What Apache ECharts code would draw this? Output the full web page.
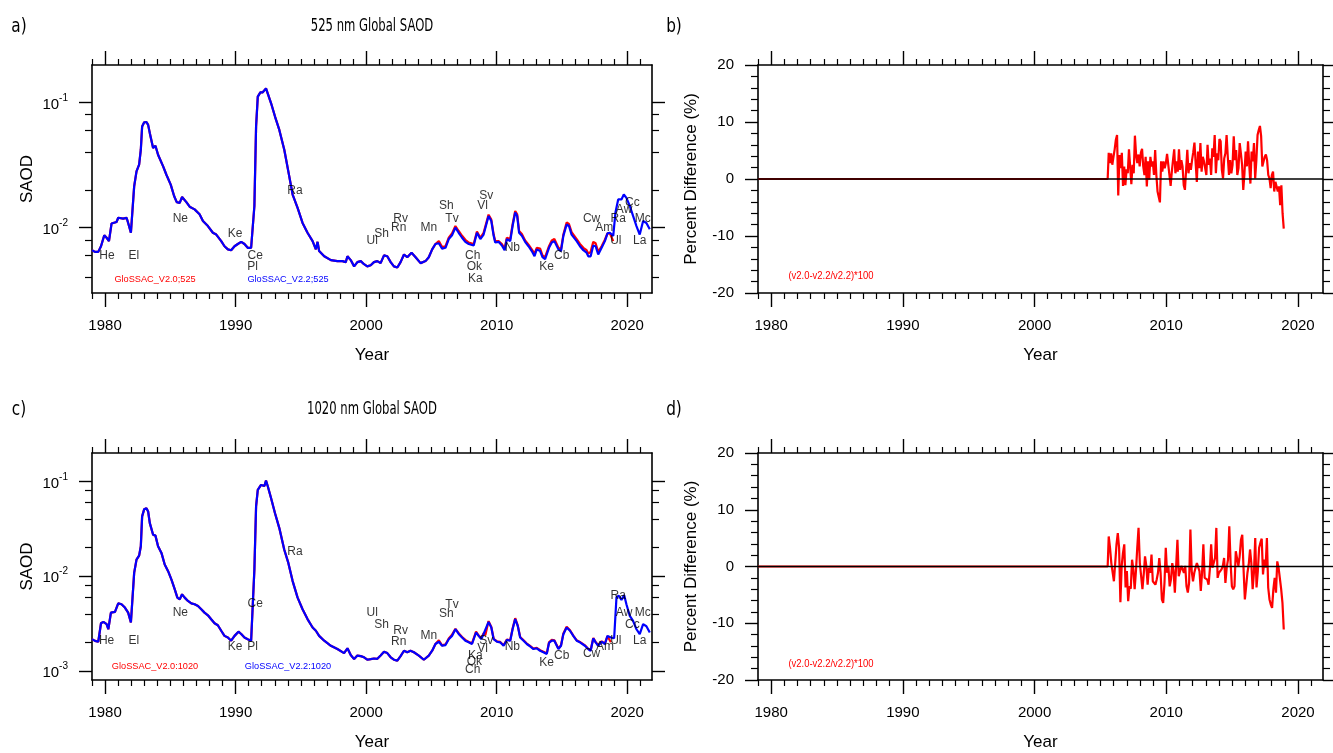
<!DOCTYPE html>
<html><head><meta charset="utf-8">
<script src="https://cdn.jsdelivr.net/npm/echarts@6/dist/echarts.min.js"></script>
<style>html,body{margin:0;padding:0;background:#fff}#c{width:1333px;height:753px}</style>
</head><body><div id="c"></div><script>
// ---------- DATA ----------
const xMajorTicks = [1980, 1990, 2000, 2010, 2020];
const xMinorTicks = [1979,1981,1982,1983,1984,1985,1986,1987,1988,1989,1991,1992,1993,1994,1995,1996,1997,1998,1999,2001,2002,2003,2004,2005,2006,2007,2008,2009,2011,2012,2013,2014,2015,2016,2017,2018,2019,2021];
const yLogMajorA = [0.01, 0.1];
const yLogMinorA = [0.004, 0.006, 0.008, 0.02, 0.04, 0.06, 0.08];
const yLogMajorC = [0.001, 0.01, 0.1];
const yLogMinorC = [0.002, 0.004, 0.006, 0.008, 0.02, 0.04, 0.06, 0.08];
const pdMajorTicks = [-20, -10, 0, 10, 20];
const pdMinorTicks = [-18,-16,-14,-12,-8,-6,-4,-2,2,4,6,8,12,14,16,18];

// 525 nm, GloSSAC v2.2 (blue)
const yr525 = [1979.0,1979.23,1979.48,1979.69,1979.94,1980.12,1980.30,1980.50,1980.88,1981.01,1981.39,1981.65,1981.77,1981.98,1982.08,1982.23,1982.41,1982.61,1982.74,1982.84,1983.00,1983.17,1983.30,1983.43,1983.68,1983.86,1984.06,1984.45,1984.70,1985.03,1985.29,1985.49,1985.72,1985.90,1986.05,1986.23,1986.48,1986.86,1987.24,1987.50,1987.88,1988.26,1988.52,1988.90,1989.15,1989.41,1989.66,1989.92,1990.17,1990.43,1990.68,1990.93,1991.19,1991.32,1991.44,1991.57,1991.70,1991.90,1992.08,1992.21,1992.33,1992.46,1992.72,1993.02,1993.35,1993.73,1994.04,1994.37,1994.75,1995.13,1995.51,1995.90,1996.15,1996.28,1996.40,1996.79,1997.30,1997.80,1998.19,1998.44,1998.57,1998.82,1999.08,1999.33,1999.59,1999.84,2000.09,2000.35,2000.60,2000.86,2001.11,2001.37,2001.62,2001.88,2002.13,2002.39,2002.64,2002.90,2003.15,2003.48,2003.79,2004.17,2004.55,2004.80,2005.06,2005.31,
  2005.57,2005.82,2006.08,2006.33,2006.58,2006.84,2007.09,2007.35,2007.60,2007.86,2008.24,2008.49,2008.75,2009.00,2009.13,2009.38,2009.59,2009.77,2009.89,2010.15,2010.40,2010.61,2010.78,2011.04,2011.22,2011.42,2011.57,2011.72,2011.93,2012.18,2012.44,2012.69,2012.90,2013.07,2013.33,2013.51,2013.71,2013.84,2014.01,2014.22,2014.42,2014.73,2014.93,2015.11,2015.36,2015.54,2015.74,2016.13,2016.38,2016.64,2016.89,2017.02,2017.20,2017.40,2017.58,2017.78,2018.04,2018.29,2018.49,2018.67,2018.93,
  2019.10,2019.31,2019.56,2019.74,2019.94,2020.20,2020.45,2020.71,2020.96,2021.22,2021.47,2021.73];
const v22_525 = [0.0066,0.0064,0.0064,0.0071,0.0087,0.0083,0.0078,0.0108,0.0111,0.0120,0.0118,0.0120,0.0109,0.0091,0.0091,0.0214,0.0282,0.0319,0.042,0.0644,0.0697,0.070,0.0664,0.057,0.0433,0.0452,0.0383,0.0309,0.0265,0.0221,0.0179,0.0160,0.0158,0.0176,0.0173,0.0160,0.0147,0.0140,0.0128,0.0113,0.0103,0.0091,0.0088,0.0078,0.0071,0.0067,0.0066,0.0071,0.0074,0.0077,0.0074,0.0069,0.0069,0.0071,0.0149,0.0644,0.1116,0.1208,0.121,0.1247,0.130,0.1186,0.0988,0.0774,0.0605,0.042,0.0282,0.0184,0.0144,0.0109,0.0091,0.0078,0.0067,0.0077,0.0065,0.0059,0.0055,0.0054,0.0054,0.0053,0.0059,0.0055,0.0049,0.0053,0.0054,0.0051,0.0049,0.0050,0.0053,0.0054,0.0052,0.0060,0.0059,0.0053,0.0049,0.0048,0.0053,0.0061,0.0058,0.0063,0.0058,0.0052,0.0054,0.0058,0.0067,0.0074,
  0.0075,0.0068,0.0069,0.0081,0.0087,0.0100,0.0091,0.0083,0.0077,0.0074,0.0072,0.0091,0.0081,0.0088,0.0091,0.0124,0.0113,0.0086,0.0076,0.0077,0.0072,0.0066,0.0081,0.0078,0.0103,0.0132,0.0124,0.0091,0.0086,0.0077,0.0071,0.0065,0.0059,0.0067,0.0065,0.0058,0.0056,0.0055,0.0069,0.0076,0.0078,0.0067,0.0065,0.0086,0.0106,0.0103,0.0088,0.0078,0.0071,0.0066,0.0063,0.0059,0.0059,0.0072,0.0071,0.0061,0.0069,0.0078,0.0090,0.0091,0.0086,
  0.0132,0.0168,0.0168,0.0184,0.0173,0.0149,0.0124,0.0103,0.0088,0.0113,0.0109,0.0097];
// 525 nm, GloSSAC v2.0 (red) where it departs from v2.2 (from 2005.57 to its end)
const v20_525_tail = [0.0078,0.0070,0.0071,0.0083,0.0090,0.0103,0.0094,0.0086,0.0080,0.0076,0.0074,0.0093,0.0083,0.0091,0.0094,0.0127,0.0116,0.0088,0.0078,0.0078,0.0074,0.0068,0.0083,0.0081,0.0106,0.0136,0.0128,0.0094,0.0089,0.0079,0.0073,0.0067,0.0062,0.0069,0.0068,0.0060,0.0058,0.0057,0.0071,0.0079,0.0081,0.0069,0.0067,0.0088,0.0110,0.0107,0.0092,0.0081,0.0074,0.0069,0.0066,0.0062,0.0064,0.0077,0.0075,0.0064,0.0071,0.0080,0.0090,0.0090,0.0078];

// 1020 nm, GloSSAC v2.2 (blue)
const yr1020 = [1979.0,1979.23,1979.48,1979.69,1979.87,1979.99,1980.12,1980.25,1980.45,1980.76,1981.01,1981.26,1981.52,1981.77,1981.98,1982.08,1982.23,1982.41,1982.61,1982.74,1982.84,1983.00,1983.17,1983.30,1983.43,1983.68,1983.86,1984.06,1984.32,1984.57,1984.83,1985.08,1985.34,1985.54,1985.72,1985.90,1986.10,1986.35,1986.61,1986.86,1987.12,1987.37,1987.62,1987.88,1988.13,1988.39,1988.64,1988.90,1989.15,1989.41,1989.66,1989.92,1990.22,1990.43,1990.68,1990.93,1991.19,1991.32,1991.44,1991.57,1991.70,1991.95,1992.21,1992.33,1992.46,1992.72,1993.02,1993.35,1993.73,1994.04,1994.37,1994.75,1995.13,1995.51,1995.90,1996.15,1996.28,1996.40,1996.79,1997.30,1997.80,1998.31,1998.57,1998.82,1999.08,1999.33,1999.59,1999.84,2000.09,2000.35,2000.60,2000.86,2001.11,2001.37,2001.62,2001.88,2002.13,2002.39,2002.64,2002.90,2003.15,2003.40,2003.66,2004.04,2004.42,2004.80,2005.06,2005.31,
  2005.57,2005.82,2006.08,2006.33,2006.58,2006.84,2007.09,2007.35,2007.60,2007.86,2008.11,2008.42,2008.62,2008.82,2009.00,2009.13,2009.38,2009.59,2009.77,2010.02,2010.27,2010.53,2010.78,2011.04,2011.22,2011.42,2011.62,2011.80,2012.06,2012.31,2012.56,2012.82,2013.07,2013.33,2013.58,2013.84,2014.01,2014.22,2014.42,2014.73,2014.93,2015.11,2015.36,2015.62,2015.87,2016.13,2016.38,2016.76,2017.02,2017.20,2017.40,2017.58,2017.78,2018.04,2018.29,2018.49,2018.75,
  2019.00,2019.18,2019.36,2019.56,2019.77,2019.94,2020.20,2020.45,2020.71,2020.96,2021.22,2021.47,2021.73];
const v22_1020 = [0.00216,0.00207,0.00203,0.00318,0.00329,0.00342,0.00311,0.00275,0.00412,0.00419,0.00516,0.00505,0.00466,0.00412,0.00324,0.00324,0.01083,0.01496,0.0165,0.0207,0.0428,0.0510,0.0523,0.0482,0.0363,0.0274,0.0268,0.0207,0.0176,0.01327,0.0113,0.00923,0.00724,0.00593,0.00569,0.00643,0.00593,0.00547,0.00516,0.00505,0.00484,0.00447,0.00412,0.00386,0.00351,0.00318,0.00303,0.00265,0.00234,0.00225,0.00208,0.00234,0.00259,0.00245,0.00225,0.00216,0.00208,0.00208,0.01175,0.0545,0.0815,0.0919,0.0897,0.102,0.0897,0.0665,0.0462,0.0322,0.0190,0.0138,0.00887,0.00593,0.00447,0.00352,0.00287,0.00265,0.00275,0.00234,0.00208,0.00184,0.0017,0.00154,0.00173,0.00147,0.00133,0.00145,0.00143,0.00139,0.00131,0.00133,0.00135,0.00134,0.00145,0.00159,0.00154,0.00139,0.00131,0.00128,0.00143,0.00163,0.00157,0.00163,0.00157,0.00145,0.00131,0.00145,0.00163,0.00192,
  0.00203,0.00184,0.00187,0.00216,0.00234,0.00275,0.00245,0.00225,0.00208,0.00200,0.00192,0.00254,0.00234,0.00216,0.00245,0.00234,0.00329,0.00287,0.00216,0.00203,0.00200,0.00184,0.00212,0.00208,0.00275,0.00352,0.00296,0.00225,0.00208,0.00192,0.00181,0.00170,0.00173,0.00163,0.00157,0.00151,0.00197,0.00208,0.00208,0.00170,0.00184,0.00244,0.00287,0.00265,0.00234,0.00208,0.00200,0.00184,0.00170,0.00163,0.00220,0.00200,0.00184,0.00203,0.00192,0.00234,0.00225,
  0.00221,0.0060,0.0062,0.0056,0.0063,0.00505,0.0038,0.00337,0.00275,0.00244,0.00311,0.00296,0.00254];
const v20_1020_tail = [0.00210,0.00186,0.00190,0.00220,0.00240,0.00278,0.00250,0.00228,0.00212,0.00202,0.00195,0.00260,0.00236,0.00220,0.00250,0.00238,0.00335,0.00290,0.00218,0.00205,0.00202,0.00186,0.00214,0.00210,0.00280,0.00360,0.00300,0.00228,0.00210,0.00194,0.00183,0.00172,0.00175,0.00165,0.00159,0.00153,0.00200,0.00212,0.00210,0.00172,0.00186,0.00248,0.00292,0.00268,0.00236,0.00210,0.00202,0.00186,0.00170,0.00165,0.00222,0.00202,0.00186,0.00205,0.00194,0.00232,0.00200];

// Percent difference (v2.0-v2.2)/v2.2*100, monthly from mid-2005 to end-2018 (zero before)
const pdStartYear = 2005.63, pdEndYear = 2018.92;
const pd525 = [4.6,2.8,4.5,2.5,3.9,5.2,6.9,7.7,-2.9,4.2,1.9,4.6,-1.2,2.2,-1.1,1.7,1.0,5.2,2.2,-0.9,2.5,1.0,7.6,4.2,2.8,4.3,2.2,4.6,5.3,2.2,0.7,3.9,-1.3,3.1,-0.1,3.9,2.2,3.1,0.7,5.1,0.7,-2.2,-2.5,-4.1,3.1,1.3,3.1,1.9,2.8,4.4,4.6,0.7,-1.2,1.3,3.3,5.2,1.0,3.1,1.3,5.2,1.6,3.3,2.2,-1.1,-1.9,-1.9,5.1,1.0,2.8,1.6,3.3,4.7,6.4,2.8,-0.5,4.8,1.9,6.3,1.3,3.9,3.1,3.3,0.7,6.0,2.5,3.6,0.7,5.4,3.9,7.7,1.0,4.5,3.3,7.0,6.6,1.6,0.1,3.6,4.5,7.7,3.9,0.7,3.3,1.0,2.5,7.5,3.3,5.1,0.7,1.9,6.3,4.5,2.5,-1.9,1.0,4.8,2.2,6.6,2.5,-0.8,4.8,3.1,6.3,0.1,3.3,7.7,8.6,9.3,7.5,2.2,1.9,3.9,4.3,3.3,0.7,0.1,-1.6,0.7,1.3,-2.2,-0.5,-1.3,-2.2,-1.3,-4.6,-1.1,-6.0,-8.7];
const pd1020 = [5.3,3.3,0.6,0.5,-2.6,0.6,3.9,5.9,3.3,-6.3,0.1,2.4,3.9,-3.7,-0.8,-6.1,-3.5,-3.9,1.2,-0.5,-4.0,-0.8,3.3,6.8,0.6,-1.7,-4.0,-1.4,1.8,0.1,-3.2,-0.2,-1.1,2.1,-2.6,-2.3,-3.2,-2.3,-1.1,1.5,-1.1,-5.8,-6.4,-2.9,3.3,-1.1,0.1,-3.5,-2.3,0.6,-0.8,-4.6,0.1,4.7,-1.7,-2.0,0.1,0.4,-1.1,0.1,-3.5,-4.6,-2.9,6.5,-0.8,-2.6,-1.1,-0.2,0.6,0.9,-0.8,-4.3,-1.1,3.9,-2.0,-2.0,-2.3,-3.2,-0.5,3.9,-0.2,-0.5,1.5,6.8,-2.0,-1.1,-0.8,-0.5,0.1,1.5,-2.9,-0.2,1.2,7.1,0.6,-3.5,-4.0,-3.5,2.7,2.4,0.1,1.8,4.7,5.6,-0.5,-5.8,-3.5,-1.1,0.4,3.0,0.6,-4.0,-1.1,5.0,-3.7,-0.8,3.3,4.2,4.9,-1.4,1.2,-0.2,5.0,-3.7,-5.8,-6.7,-7.3,-4.0,-2.0,-4.6,0.9,-0.2,0.1,-4.0,-6.4,-11.1];

// Volcano annotations [name, year, SAOD]
const volc525 = [['He',1980.15,0.006],['El',1982.2,0.006],['Ne',1985.77,0.0119],['Ke',1989.97,0.009],['Ce',1991.5,0.006],['Pl',1991.3,0.0049],['Ra',1994.55,0.0198],
  ['Ul',2000.47,0.0078],['Sh',2001.19,0.009],['Rv',2002.64,0.0119],['Rn',2002.5,0.0099],['Mn',2004.8,0.0099],['Sh',2006.15,0.0149],['Tv',2006.58,0.0119],['Sv',2009.2,0.0179],['Vl',2008.92,0.0149],
  ['Ch',2008.16,0.006],['Ok',2008.29,0.0049],['Ka',2008.37,0.0039],['Nb',2011.2,0.0069],['Ke',2013.83,0.0049],['Cb',2014.98,0.006],['Cw',2017.27,0.0119],['Am',2018.24,0.0099],['Ra',2019.31,0.0119],['Ul',2019.13,0.0078],['Aw',2019.76,0.014],['Cc',2020.4,0.0158],['Mc',2021.2,0.0119],['La',2020.96,0.0078]];
const volc1020 = [['He',1980.12,0.00206],['El',1982.2,0.00206],['Ne',1985.77,0.00415],['Ce',1991.5,0.0051],['Ke',1989.97,0.00182],['Pl',1991.3,0.00182],['Ra',1994.55,0.0182],
  ['Ul',2000.47,0.00408],['Sh',2001.19,0.00307],['Rv',2002.64,0.00265],['Rn',2002.5,0.00202],['Mn',2004.8,0.00236],['Tv',2006.58,0.00499],['Sh',2006.15,0.00401],['Sv',2009.2,0.00206],['Vl',2008.92,0.00171],
  ['Ka',2008.37,0.00145],['Ok',2008.29,0.00124],['Ch',2008.16,0.00102],['Nb',2011.2,0.00182],['Ke',2013.83,0.00121],['Cb',2014.98,0.00143],['Cw',2017.27,0.00152],['Am',2018.3,0.00179],['Ul',2019.13,0.00206],['Ra',2019.31,0.00627],['Aw',2019.76,0.00408],['Cc',2020.4,0.00307],['Mc',2021.2,0.00408],['La',2020.96,0.00206]];

// ---------- BUILD ----------
const X_MIN = 1979, X_MAX = 2021.9;
const FONT = '"Liberation Sans", Arial, Helvetica, sans-serif';
const COND = '"Liberation Sans Narrow", "DejaVu Sans Condensed", "Open Sans", sans-serif';
const BLACK = '#000';

const grids = [
  {left: 92, top: 65, width: 560, height: 228},
  {left: 758, top: 65, width: 565, height: 228},
  {left: 92, top: 453, width: 560, height: 227},
  {left: 758, top: 453, width: 565, height: 227}
];

function xAxesFor(g) {
  const base = {gridIndex: g, type: 'value', min: X_MIN, max: X_MAX, splitLine: {show: false}};
  return [
    Object.assign({}, base, {position: 'bottom',
      axisLine: {show: true, onZero: false, lineStyle: {color: BLACK, width: 1.6}},
      axisTick: {show: true, customValues: xMajorTicks, length: 14, lineStyle: {color: BLACK, width: 1.4}},
      axisLabel: {show: true, customValues: xMajorTicks, margin: 25, fontSize: 15, color: BLACK, fontFamily: FONT, formatter: v => String(v)},
      name: 'Year', nameLocation: 'middle', nameGap: 54, nameTextStyle: {fontSize: 17, color: BLACK, fontFamily: FONT}}),
    Object.assign({}, base, {position: 'bottom', axisLine: {show: false, onZero: false},
      axisTick: {show: true, customValues: xMinorTicks, length: 6, lineStyle: {color: BLACK, width: 1.2}},
      axisLabel: {show: false}}),
    Object.assign({}, base, {position: 'top',
      axisLine: {show: true, onZero: false, lineStyle: {color: BLACK, width: 1.6}},
      axisTick: {show: true, customValues: xMajorTicks, length: 14, lineStyle: {color: BLACK, width: 1.4}},
      axisLabel: {show: false}}),
    Object.assign({}, base, {position: 'top', axisLine: {show: false, onZero: false},
      axisTick: {show: true, customValues: xMinorTicks, length: 6, lineStyle: {color: BLACK, width: 1.2}},
      axisLabel: {show: false}})
  ];
}

function yAxesFor(g, type, min, max, major, minor, name, nameGap, fmt, rich) {
  const base = {gridIndex: g, type: type, min: min, max: max, splitLine: {show: false}};
  if (type === 'log') base.logBase = 10;
  const lbl = {show: true, customValues: major, margin: 24, fontSize: 15, color: BLACK, fontFamily: FONT, formatter: fmt};
  if (rich) lbl.rich = rich;
  return [
    Object.assign({}, base, {position: 'left',
      axisLine: {show: true, onZero: false, lineStyle: {color: BLACK, width: 1.6}},
      axisTick: {show: true, customValues: major, length: 13, lineStyle: {color: BLACK, width: 1.4}},
      axisLabel: lbl,
      name: name, nameLocation: 'middle', nameGap: nameGap, nameRotate: 90,
      nameTextStyle: {fontSize: 17, color: BLACK, fontFamily: FONT}}),
    Object.assign({}, base, {position: 'left', axisLine: {show: false, onZero: false},
      axisTick: {show: true, customValues: minor, length: 7, lineStyle: {color: BLACK, width: 1.2}},
      axisLabel: {show: false}}),
    Object.assign({}, base, {position: 'right',
      axisLine: {show: true, onZero: false, lineStyle: {color: BLACK, width: 1.6}},
      axisTick: {show: true, customValues: major, length: 13, lineStyle: {color: BLACK, width: 1.4}},
      axisLabel: {show: false}}),
    Object.assign({}, base, {position: 'right', axisLine: {show: false, onZero: false},
      axisTick: {show: true, customValues: minor, length: 7, lineStyle: {color: BLACK, width: 1.2}},
      axisLabel: {show: false}})
  ];
}

const powFmt = v => '{b|10}{s|' + Math.round(Math.log10(v)) + '}';
const powRich = {b: {fontSize: 15, fontFamily: FONT, color: BLACK, verticalAlign: 'bottom'},
                 s: {fontSize: 10, fontFamily: FONT, color: BLACK, verticalAlign: 'bottom', padding: [0, 0, 9, 0]}};

const xAxis = [].concat(xAxesFor(0), xAxesFor(1), xAxesFor(2), xAxesFor(3));
const yAxis = [].concat(
  yAxesFor(0, 'log', 0.003, 0.2, yLogMajorA, yLogMinorA, 'SAOD', 56, powFmt, powRich),
  yAxesFor(1, 'value', -20, 20, pdMajorTicks, pdMinorTicks, 'Percent Difference (%)', 58, v => String(v)),
  yAxesFor(2, 'log', 0.0008, 0.2, yLogMajorC, yLogMinorC, 'SAOD', 56, powFmt, powRich),
  yAxesFor(3, 'value', -20, 20, pdMajorTicks, pdMinorTicks, 'Percent Difference (%)', 58, v => String(v))
);

const zip = (xs, ys) => ys.map((y, i) => [xs[i], y]);
function redSeriesData(yrs, blue, tail) {
  const i0 = yrs.indexOf(2005.57);
  return zip(yrs.slice(0, i0 + tail.length), blue.slice(0, i0).concat(tail));
}
function pdData(vals) {
  const step = (pdEndYear - pdStartYear) / (vals.length - 1);
  return [[X_MIN, 0], [2005.55, 0]].concat(vals.map((v, i) => [pdStartYear + i * step, v]));
}
function lineSeries(g, data, color, width, z) {
  return {type: 'line', xAxisIndex: 4 * g, yAxisIndex: 4 * g, data: data, showSymbol: false, symbol: 'none',
    lineStyle: {color: color, width: width}, itemStyle: {color: color}, z: z, animation: false, clip: true};
}
function labelSeries(g, list) {
  return {type: 'scatter', xAxisIndex: 4 * g, yAxisIndex: 4 * g, symbolSize: 1, z: 5,
    itemStyle: {color: 'rgba(0,0,0,0)'}, animation: false, silent: true,
    data: list.map(d => ({name: d[0], value: [d[1], d[2]]})),
    label: {show: true, position: 'inside', formatter: '{b}', fontSize: 12, color: '#000', fontFamily: FONT}};
}

const series = [
  lineSeries(0, redSeriesData(yr525, v22_525, v20_525_tail), '#ff0000', 2.2, 2),
  lineSeries(0, zip(yr525, v22_525), '#0000ff', 2.2, 3),
  labelSeries(0, volc525),
  lineSeries(1, pdData(pd525), '#ff0000', 2.2, 2),
  lineSeries(1, [[X_MIN, 0], [X_MAX, 0]], '#000000', 1.4, 3),
  lineSeries(2, redSeriesData(yr1020, v22_1020, v20_1020_tail), '#ff0000', 2.2, 2),
  lineSeries(2, zip(yr1020, v22_1020), '#0000ff', 2.2, 3),
  labelSeries(2, volc1020),
  lineSeries(3, pdData(pd1020), '#ff0000', 2.2, 2),
  lineSeries(3, [[X_MIN, 0], [X_MAX, 0]], '#000000', 1.4, 3)
];

function txt(x, y, s, size, color, family, sx) {
  return {type: 'text', x: x, y: y, z: 10, scaleX: sx || 1, style: {text: s, fontSize: size, fill: color, fontFamily: family,
    align: 'center', verticalAlign: 'middle'}};
}
const graphic = [
  txt(19, 27, 'a)', 20, BLACK, COND, 0.85), txt(674, 27, 'b)', 20, BLACK, COND, 0.85),
  txt(19, 410, 'c)', 20, BLACK, COND, 0.85), txt(674, 410, 'd)', 20, BLACK, COND, 0.85),
  txt(372, 27, '525 nm Global SAOD', 17, BLACK, COND, 0.76),
  txt(372, 410, '1020 nm Global SAOD', 17, BLACK, COND, 0.76),
  txt(155, 279, 'GloSSAC_V2.0;525', 9.2, '#ff0000', FONT),
  txt(288, 279, 'GloSSAC_V2.2;525', 9.2, '#0000ff', FONT),
  txt(155, 666, 'GloSSAC_V2.0:1020', 9.2, '#ff0000', FONT),
  txt(288, 666, 'GloSSAC_V2.2:1020', 9.2, '#0000ff', FONT),
  txt(831, 276, '(v2.0-v2.2/v2.2)*100', 10.5, '#ff0000', FONT, 0.9),
  txt(831, 664, '(v2.0-v2.2/v2.2)*100', 10.5, '#ff0000', FONT, 0.9)
];

const chart = echarts.init(document.getElementById('c'), null, {renderer: 'canvas'});
chart.setOption({
  backgroundColor: '#fff',
  animation: false,
  grid: grids,
  xAxis: xAxis,
  yAxis: yAxis,
  series: series,
  graphic: graphic
});
</script></body></html>
